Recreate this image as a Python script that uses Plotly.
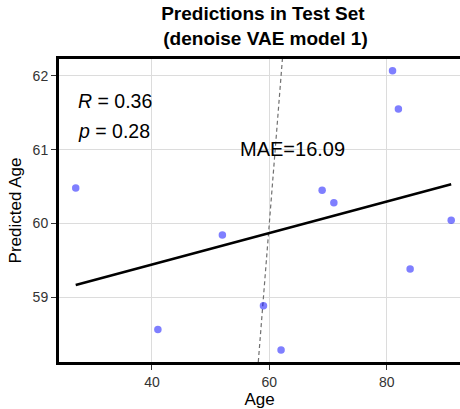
import numpy as np
import plotly.graph_objects as go

# Data
age = [27, 81, 82, 69, 71, 91, 41, 52, 59, 62, 84]
predicted_age = [60.48, 62.07, 61.55, 60.45, 60.28, 60.04, 58.56, 59.84, 58.88, 58.28, 59.38]
r_text = "<i>R</i> = 0.36"
p_text = "<i>p</i> = 0.28"
mae_text = "MAE=16.09"
title_lines = ["Predictions in Test Set", " (denoise VAE model 1)"]
x_ticks = [40, 60, 80]
y_ticks = [59, 60, 61, 62]

x_range = [24.15, 92.5]
y_range = [58.118, 62.23]

FONT = "Liberation Sans, Arial, Helvetica, sans-serif"

W, H = 460, 409
ML, MR, MT, MB = 59, 0, 59, 47
PW, PH = W - ML - MR, H - MT - MB
LW = 3
dx = (LW / 2) / PW
dy = (LW / 2) / PH

# regression line
slope, intercept = np.polyfit(age, predicted_age, 1)
xl = np.array([min(age), max(age)])
yl = slope * xl + intercept

fig = go.Figure()

# identity line (y = x)
fig.add_trace(go.Scatter(
    x=[y_range[0], y_range[1]], y=[y_range[0], y_range[1]],
    mode="lines", line=dict(color="#707070", width=1.2, dash="4px,3px"),
    hoverinfo="skip", showlegend=False))

fig.add_trace(go.Scatter(
    x=age, y=predicted_age, mode="markers",
    marker=dict(color="rgba(0,0,255,0.5)", size=7.5, line=dict(width=0)),
    showlegend=False))

fig.add_trace(go.Scatter(
    x=xl, y=yl, mode="lines", line=dict(color="black", width=2.5),
    showlegend=False))

fig.add_annotation(x=27.0, y=61.655, xref="x", yref="y", text=r_text,
                   showarrow=False, xanchor="left", yanchor="middle",
                   font=dict(family=FONT, size=19.5, color="black"))
fig.add_annotation(x=27.0, y=61.255, xref="x", yref="y", text=p_text,
                   showarrow=False, xanchor="left", yanchor="middle",
                   font=dict(family=FONT, size=19.5, color="black"))
fig.add_annotation(x=64.0, y=61.015, xref="x", yref="y", text=mae_text,
                   showarrow=False, xanchor="center", yanchor="middle",
                   font=dict(family=FONT, size=20, color="black"))

fig.add_annotation(x=0.508, y=1.11, xref="paper", yref="paper",
                   text="<b>" + title_lines[0] + "</b><br><b>" + title_lines[1] + "</b>",
                   showarrow=False, xanchor="center", yanchor="middle", align="center",
                   font=dict(family=FONT, size=19, color="black"))

# panel frame: left, bottom and top (right side falls outside the picture)
frame = dict(type="line", xref="paper", yref="paper", layer="above",
             line=dict(color="black", width=LW))
fig.add_shape(x0=-dx, x1=-dx, y0=-2 * dy, y1=1 + 2 * dy, **frame)
fig.add_shape(x0=-2 * dx, x1=1.0, y0=-dy, y1=-dy, **frame)
fig.add_shape(x0=-2 * dx, x1=1.0, y0=1 + dy, y1=1 + dy, **frame)

fig.update_layout(
    width=W, height=H,
    margin=dict(l=ML, r=MR, t=MT, b=MB),
    paper_bgcolor="white", plot_bgcolor="white",
    font=dict(family=FONT),
    xaxis=dict(
        range=x_range, tickvals=x_ticks, ticktext=[str(v) for v in x_ticks],
        showgrid=True, gridcolor="#dcdcdc", gridwidth=1.2, zeroline=False,
        showline=False,
        ticks="outside", ticklen=7, tickwidth=1, tickcolor="#333333",
        tickfont=dict(family=FONT, size=14, color="#333333"),
        title=dict(text="Age", font=dict(family=FONT, size=17, color="black"), standoff=4),
    ),
    yaxis=dict(
        range=y_range, tickvals=y_ticks, ticktext=[str(v) for v in y_ticks],
        showgrid=True, gridcolor="#dcdcdc", gridwidth=1.2, zeroline=False,
        showline=False,
        ticks="outside", ticklen=7, tickwidth=1, tickcolor="#333333",
        tickfont=dict(family=FONT, size=14, color="#333333"),
        title=dict(text="Predicted Age", font=dict(family=FONT, size=17, color="black"), standoff=6),
    ),
)

fig.write_html("out.html")
